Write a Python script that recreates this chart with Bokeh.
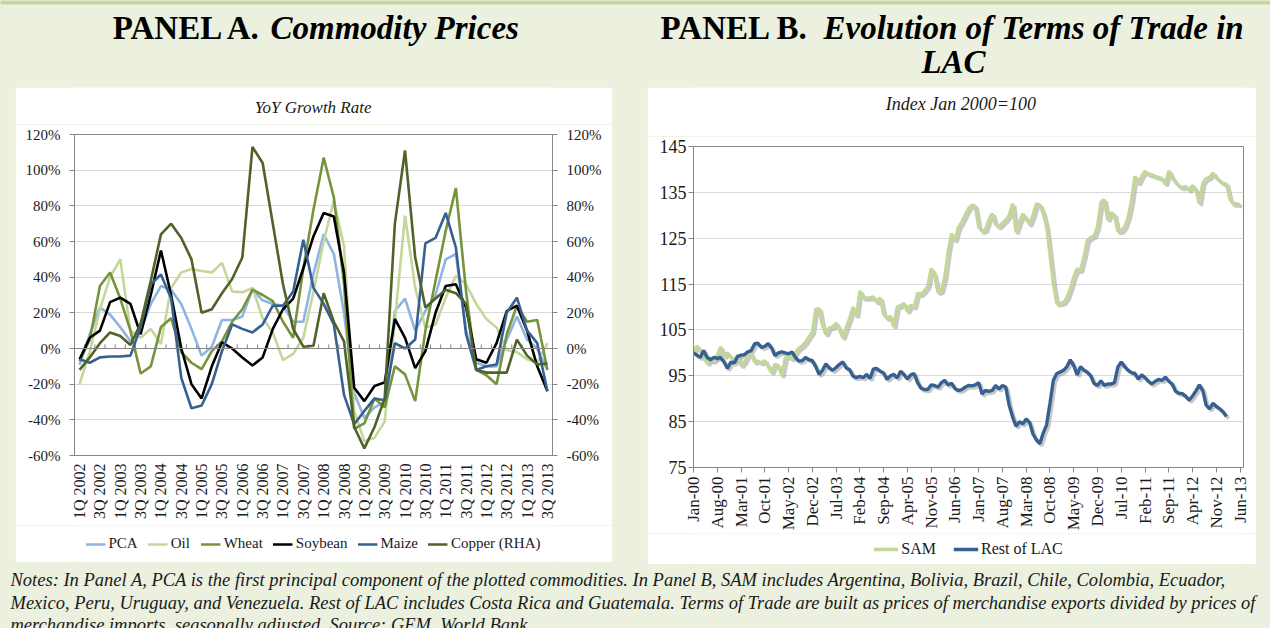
import math
from bokeh.plotting import figure
from bokeh.models import (Range1d, FixedTicker, Legend, LegendItem, LinearAxis, Span,
                          BoxAnnotation, Spacer, PrintfTickFormatter)
from bokeh.layouts import row, column
from bokeh.embed import file_html
from bokeh.resources import INLINE
from bokeh.core.properties import value

BG = "#EBF1DE"
BAND = "#C4D79B"
GRID = "#D9D9D9"
AXIS = "#868686"
TXT = "#1A1A1A"
FONT = "Liberation Serif"

# ---------------- Panel A data (YoY growth, %) ----------------
quarter_labels = ["1Q 2002", "3Q 2002", "1Q 2003", "3Q 2003", "1Q 2004", "3Q 2004",
                  "1Q 2005", "3Q 2005", "1Q 2006", "3Q 2006", "1Q 2007", "3Q 2007",
                  "1Q 2008", "3Q 2008", "1Q 2009", "3Q 2009", "1Q 2010", "3Q 2010",
                  "1Q 2011", "3Q 2011", "1Q 2012", "3Q 2012", "1Q 2013", "3Q 2013"]

pca = [-9, 8, 23, 19, 12, 4, 10, 25, 35, 33,
       25, 11, -4, 1, 16, 16, 18, 33, 27, 25,
       24, 15, 15, 42, 64, 53, 20, -25, -39, -33,
       -30, 21, 28, 10, 21, 30, 50, 53, 10, -8,
       -10, -10, 5, 18, 5, 0, -12]
oil = [-20, -2, 22, 40, 50, 10, 6, 11, 2.5, 34,
       42.6, 44.6, 43.5, 42.6, 48, 32, 31.5, 34, 17, 9,
       -6.5, -3, 6, 32, 60, 83, 57.5, -35, -52, -50,
       -41, 15, 74.5, 34, 11.7, 13.5, 28.5, 40.7, 36, 25,
       16.6, 11.7, -1, -2, -6, -8, 3]
wheat = [-7, 5, 35, 42.6, 28, 10, -14, -10, 12, 17,
         -2, -8, -11.6, -1.5, 4, 15, 22, 33, 30, 26.6,
         15, 6, 45, 78, 107, 84.7, 36, -45, -42, -28,
         -33, -10, -14.5, -29.5, 10, 38, 66, 90, 32, -12,
         -15, -20, 8, 24, 15, 16, -12]
soybean = [-6, 6, 10, 26, 28.5, 25, 8, 30, 55, 30,
           0, -20, -28, -10, 3.5, 0, -5, -9.5, -5, 11,
           22, 28, 45, 63, 76, 74, 42.6, -22, -29.5, -21,
           -19, 16.6, 6, -11, -1.5, 20, 35, 36, 23, -6,
           -8, 3, 21, 24, 10, -10, -24]
maize = [-6, -8, -5, -4.5, -4.5, -4, 12, 36, 41.5, 28,
         -16.5, -33.5, -32, -20, -1.5, 13.5, 11, 9, 13.5, 24,
         24, 32, 61, 34, 25, 13.5, -26, -42.5, -35, -28,
         -29, 3, 0, 5, 59, 62, 76, 56.6, 8, -12,
         -10, -9, 20, 28.5, 10, 3, -24]
copper = [-12, -5, 3, 9, 7, 2, 14, 38, 64, 70,
          62, 50, 20, 22, 31, 39, 51, 113, 104, 70,
          36, 11, 1, 1.5, 31, 15, 4, -44, -56, -44,
          -28, 70, 111, 51, 23, 28, 33, 31, 25, -12,
          -13.5, -13.5, -13.5, 5, -4, -9, -8.5]

series_a = [("PCA", pca, "#8DB4E2"), ("Oil", oil, "#C4D79B"), ("Wheat", wheat, "#77933C"),
            ("Soybean", soybean, "#000000"), ("Maize", maize, "#376092"),
            ("Copper (RHA)", copper, "#4F6228")]

# ---------------- Panel B data (index Jan 2000 = 100, monthly) ----------------
month_labels = ["Jan-00", "Aug-00", "Mar-01", "Oct-01", "May-02", "Dec-02", "Jul-03", "Feb-04",
                "Sep-04", "Apr-05", "Nov-05", "Jun-06", "Jan-07", "Aug-07", "Mar-08", "Oct-08",
                "May-09", "Dec-09", "Jul-10", "Feb-11", "Sep-11", "Apr-12", "Nov-12", "Jun-13"]

sam = [100, 101.5, 100.5, 99, 97.7, 98.5, 98.2, 99.5, 101.3, 99.2, 100, 99,
       98.5, 99.5, 97.2, 98, 99.5, 99.8, 98, 98.2, 97.8, 98.3, 97, 95.7,
       97.5, 97.2, 95, 98.8, 99.3, 98.7, 100, 101, 101.5, 102.3, 103.5, 104.5,
       109.5, 109.7, 106, 104, 105.5, 105.6, 106.5, 105, 103.3, 105.5, 107.5, 110,
       108, 113.5, 112, 112, 112, 112.2, 111, 112, 108.5, 107.5, 108, 105.7,
       110, 110.3, 110.8, 109, 110.4, 110, 113, 112.8, 113.5, 114.5, 118.4, 117,
       113.2, 113.5, 116.5, 122, 126, 124.5, 127.3, 128.5, 130, 131.5, 132.2, 132,
       127.5, 126.5, 126.8, 129, 130.4, 128, 127.5, 128.3, 129, 130, 132.5, 126.3,
       128.5, 130.3, 129.2, 128, 130, 132.5, 132.2, 130.5, 127.5, 121.5, 115, 110.7,
       110.8, 111, 112, 114, 116.5, 118.3, 118, 121, 124.5, 125.2, 125.5, 127.5,
       132.8, 133.4, 129, 130.6, 130, 126.5, 126.6, 127.5, 129.5, 133, 138.5, 137,
       138.5, 139.6, 139, 138.8, 138.5, 138.3, 138, 136.8, 139.7, 138.2, 137.2, 136.4,
       136, 136.3, 135.5, 136.5, 135.5, 132.5, 137, 138, 138.3, 139.2, 138.2, 137.5,
       137, 136.8, 133.5, 132.5, 132.5, 132.3]
rest_lac = [100, 99.5, 99, 100.5, 99, 98.5, 99, 98.8, 99, 98, 96.6, 98,
            97.8, 99.2, 99.5, 99.6, 100.2, 100.5, 102, 102.1, 101.2, 101.4, 102, 101.1,
            99.4, 100, 100.2, 100, 99.8, 100.2, 99, 98.2, 98.3, 99, 98.5, 98.3,
            97, 95.3, 96.2, 97.6, 96.7, 96.2, 96.8, 97.5, 98, 96.7, 96.3, 94.9,
            94.6, 94.9, 94.6, 95.3, 94.4, 96.5, 96.6, 96, 95.6, 94.2, 95, 95.3,
            94.5, 96, 95.3, 94.3, 95.2, 95.5, 93.5, 92.3, 92, 92, 93, 92.9,
            92.5, 93.5, 94, 93, 93.4, 92.2, 91.8, 92, 92.5, 92.9, 92.8, 93,
            93.5, 91, 91.8, 91.6, 91.8, 92.9, 92.1, 92.9, 92.5, 88.5, 86, 84,
            85, 84.5, 85.6, 84.8, 82.3, 81, 80.2, 82.5, 84.3, 89, 94, 95.5,
            95.8, 96.2, 97, 98.5, 97.2, 95.2, 97, 96.2, 95.8, 95, 93.3, 92.9,
            93.9, 92.9, 93.2, 93.2, 93.5, 96.9, 98, 97, 96.2, 95.7, 95.5, 94.3,
            95.2, 94.6, 93.8, 93.2, 93.8, 94.2, 94, 94.7, 93.8, 93.2, 91.6, 91.2,
            91.1, 90.5, 89.7, 90.6, 91.7, 93, 91.8, 88.6, 87.8, 89, 88.3, 87.8,
            87.1, 86.1]

notes = ["Notes: In Panel A, PCA is the first principal component of the plotted commodities. "
         "In Panel B, SAM includes Argentina, Bolivia, Brazil, Chile, Colombia, Ecuador,",
         "Mexico, Peru, Uruguay, and Venezuela. Rest of LAC includes Costa Rica and Guatemala. "
         "Terms of Trade are built as prices of merchandise exports divided by prices of",
         "merchandise imports, seasonally adjusted. Source: GEM, World Bank."]


def style_axis(ax, size, standoff):
    ax.axis_line_color = AXIS
    ax.major_tick_line_color = AXIS
    ax.minor_tick_line_color = None
    ax.major_tick_in = 0
    ax.major_tick_out = 5
    ax.major_label_standoff = standoff
    ax.major_label_text_font = FONT
    ax.major_label_text_font_size = size
    ax.major_label_text_color = TXT


def strip(width, height, fill):
    f = figure(width=width, height=height, output_backend="svg", toolbar_location=None,
               x_range=Range1d(0, width), y_range=Range1d(0, height), x_axis_type=None,
               y_axis_type=None, min_border=0)
    f.background_fill_color = fill
    f.border_fill_color = fill
    f.outline_line_color = None
    f.grid.visible = False
    return f


def make_legend(items, spacing, glyph_w, size):
    return Legend(items=items, orientation="horizontal", location="center",
                  label_text_font=FONT, label_text_font_size=size, label_text_color=TXT,
                  glyph_width=glyph_w, spacing=spacing, label_standoff=3, padding=2,
                  margin=0, border_line_color=None, background_fill_alpha=0,
                  inactive_fill_alpha=0)


# ======================= Panel A =======================
n_q = len(pca)
xq = list(range(n_q))
A_L, A_R, A_FW, A_FH, A_T, A_B = 59, 60, 478, 321, 10, 70
A_HEAD = 47 - A_T
A_FOOT = 475 - A_HEAD - (A_T + A_FH + A_B)
pa = figure(frame_width=A_FW, frame_height=A_FH, output_backend="svg", toolbar_location=None,
            x_range=Range1d(-0.5, n_q - 0.5), y_range=Range1d(-60, 120),
            min_border_left=A_L, min_border_right=A_R, min_border_top=A_T,
            min_border_bottom=A_B)
pa.background_fill_color = "white"
pa.border_fill_color = "white"
pa.outline_line_color = AXIS
pa.yaxis.ticker = FixedTicker(ticks=list(range(-60, 121, 20)))
pa.yaxis.formatter = PrintfTickFormatter(format="%d%%")
style_axis(pa.yaxis[0], "15px", 9)
ry = LinearAxis(ticker=FixedTicker(ticks=list(range(-60, 121, 20))),
                formatter=PrintfTickFormatter(format="%d%%"))
style_axis(ry, "15px", 9)
pa.add_layout(ry, "right")
pa.xaxis.ticker = FixedTicker(ticks=xq[::2])
pa.xaxis.major_label_overrides = {i: lab for i, lab in zip(xq[::2], quarter_labels)}
style_axis(pa.xaxis[0], "16px", 8)
pa.xaxis.major_tick_out = 0
pa.xaxis.major_label_orientation = math.pi / 2
pa.xgrid.visible = False
pa.ygrid.ticker = FixedTicker(ticks=list(range(-60, 121, 20)))
pa.ygrid.grid_line_color = GRID

pa.add_layout(Span(location=0, dimension="width", line_color=AXIS, line_width=1))
bounds = [i - 0.5 for i in range(n_q + 1)]
pa.segment(x0=bounds, y0=[0] * len(bounds), x1=bounds, y1=[2.3] * len(bounds),
           line_color=AXIS, line_width=1)
for name, vals, col in series_a:
    pa.line(xq, vals, line_color=col, line_width=2.6)

A_W = A_L + A_FW + A_R
a_head = strip(A_W, A_HEAD, "white")
a_head.text(x=[A_L + A_FW / 2], y=[A_HEAD - 20], text=["YoY Growth Rate"],
            text_font=value(FONT), text_font_style="italic", text_font_size="17px",
            text_color=TXT, text_align="center", text_baseline="middle")

a_foot = strip(A_W, A_FOOT, "white")
items_a = []
for name, vals, col in series_a:
    r = a_foot.line(xq, vals, line_color=col, line_width=2.6, visible=False)
    items_a.append(LegendItem(label=name, renderers=[r]))
a_foot.add_layout(make_legend(items_a, 10, 20, "15px"))
col_a = column(a_head, pa, a_foot)

# ======================= Panel B =======================
n_m = 162
B_L, B_R, B_FW, B_FH, B_T, B_B = 46, 13, 550, 321, 10, 64
B_HEAD = 59 - B_T
B_FOOT = 475 - B_HEAD - (B_T + B_FH + B_B)
pb = figure(frame_width=B_FW, frame_height=B_FH, output_backend="svg", toolbar_location=None,
            x_range=Range1d(0, n_m), y_range=Range1d(75, 145),
            min_border_left=B_L, min_border_right=B_R, min_border_top=B_T,
            min_border_bottom=B_B)
pb.background_fill_color = "white"
pb.border_fill_color = "white"
pb.outline_line_color = AXIS
pb.yaxis.ticker = FixedTicker(ticks=list(range(75, 146, 10)))
style_axis(pb.yaxis[0], "18px", 2)
tick_m = list(range(0, 7 * len(month_labels), 7))
pb.xaxis.ticker = FixedTicker(ticks=tick_m)
pb.xaxis.major_label_overrides = {m: lab for m, lab in zip(tick_m, month_labels)}
style_axis(pb.xaxis[0], "17px", 4)
pb.xaxis.major_label_orientation = math.pi / 2
pb.xgrid.visible = False
pb.ygrid.ticker = FixedTicker(ticks=list(range(75, 146, 10)))
pb.ygrid.grid_line_color = GRID

xs_sam = list(range(len(sam)))
xs_rol = list(range(len(rest_lac)))
pb.line([x + 0.6 for x in xs_sam], [v - 0.45 for v in sam], line_color="#9A9A9A",
        line_alpha=0.55, line_width=3.5)
pb.line([x + 0.6 for x in xs_rol], [v - 0.45 for v in rest_lac], line_color="#9A9A9A",
        line_alpha=0.55, line_width=3.5)
pb.line(xs_sam, sam, line_color="#C4D79B", line_width=3.4)
pb.line(xs_rol, rest_lac, line_color="#376092", line_width=3.4)

B_W = B_L + B_FW + B_R
b_head = strip(B_W, B_HEAD, "white")
b_head.text(x=[296], y=[B_HEAD - 16], text=["Index Jan 2000=100"], text_font=value(FONT),
            text_font_style="italic", text_font_size="18px", text_color=TXT,
            text_align="center", text_baseline="middle")

b_foot = strip(B_W, B_FOOT, "white")
r1 = b_foot.line(xs_sam, sam, line_color="#C4D79B", line_width=3.4, visible=False)
r2 = b_foot.line(xs_rol, rest_lac, line_color="#376092", line_width=3.4, visible=False)
b_foot.add_layout(make_legend([LegendItem(label="SAM", renderers=[r1]),
                               LegendItem(label="Rest of LAC", renderers=[r2])],
                              17, 25, "16px"))
col_b = column(b_head, pb, b_foot)

# ======================= Heading & notes =======================
W = 1270
top = strip(W, 87, BG)
top.add_layout(BoxAnnotation(bottom=83, top=87, fill_color=BAND, fill_alpha=1, line_color=None))
ht = dict(text_font=value(FONT), text_font_size="33px", text_color="black", text_baseline="middle")
top.text(x=[262], y=[60], text=["PANEL A."], text_align="right", text_font_style="bold", **ht)
top.text(x=[270], y=[60], text=["Commodity Prices"], text_align="left",
         text_font_style="bold italic", **ht)
top.text(x=[808], y=[60], text=["PANEL B."], text_align="right", text_font_style="bold", **ht)
top.text(x=[823], y=[60], text=["Evolution of Terms of Trade in"], text_align="left",
         text_font_style="bold italic", **ht)
top.text(x=[953], y=[26], text=["LAC"], text_align="center", text_font_style="bold italic", **ht)

nf = strip(W, 66, BG)
nf.text(x=[10, 10, 10], y=[51, 28, 6], text=notes, text_font=value(FONT),
        text_font_style="italic", text_font_size="18.5px", text_color=TXT,
        text_align="left", text_baseline="middle")

bgs = {"background-color": BG}
mid = row(Spacer(width=15, height=475), col_a, Spacer(width=35, height=475),
          col_b, Spacer(width=14, height=475), styles=bgs)
root = column(top, mid, nf, styles=bgs)

open("out.html", "w").write(file_html(root, INLINE))
